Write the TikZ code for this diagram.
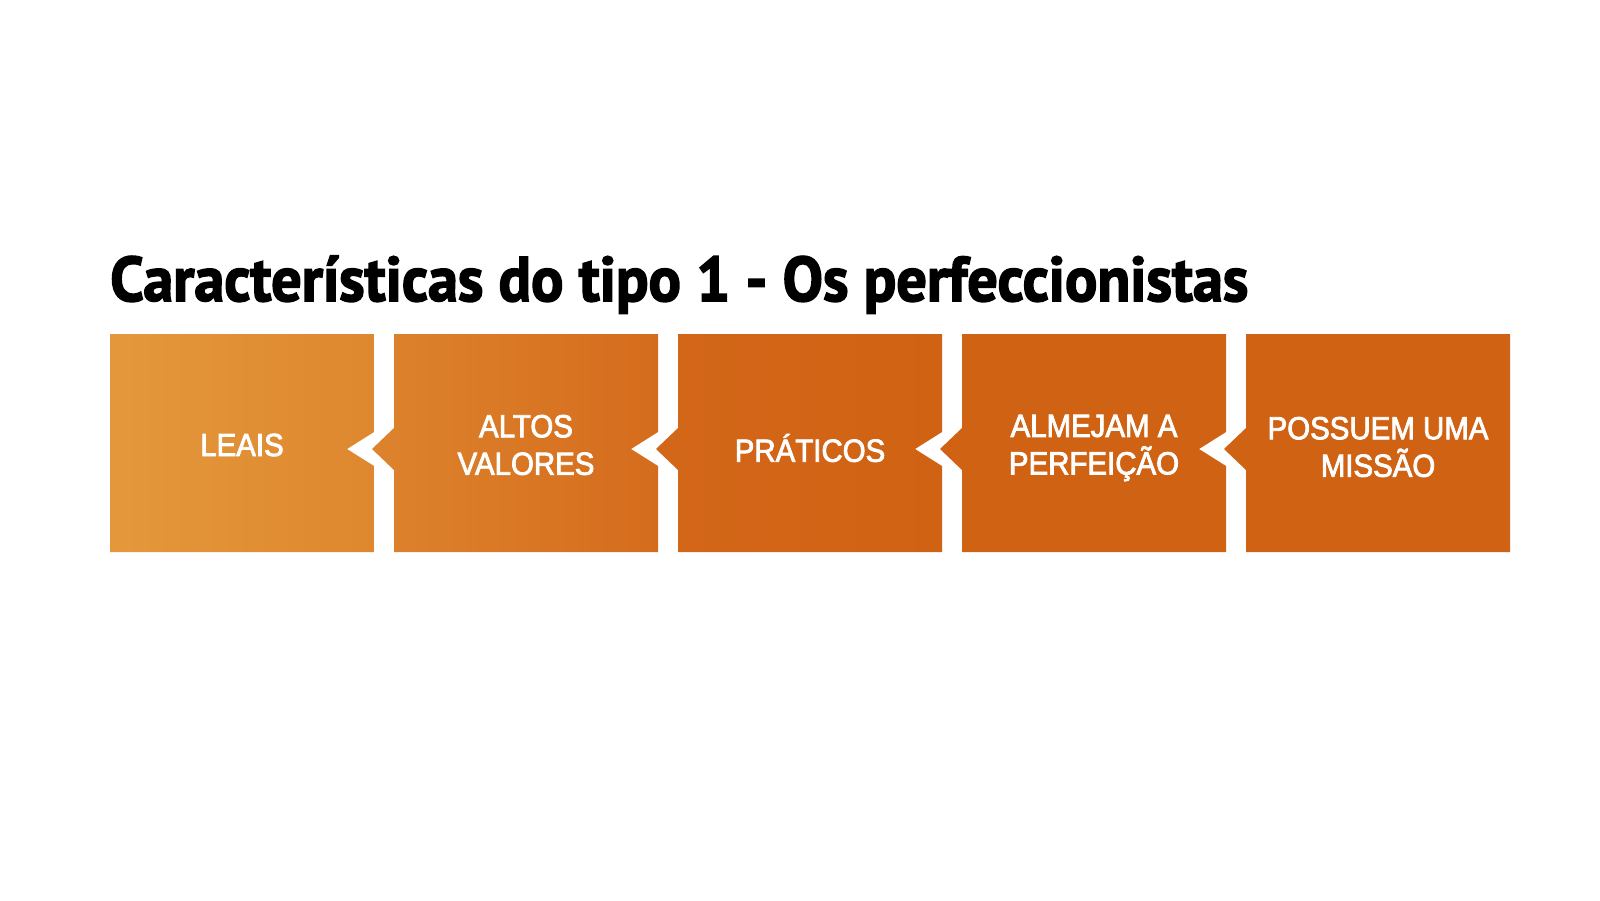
\documentclass[tikz,border=0pt]{standalone}
\usepackage{fontspec}
\usepackage{graphicx}
\setmainfont{Liberation Sans}
\newfontfamily\titlefont{PT Sans}[FakeBold=2.5]
\newfontfamily\boxfont{Liberation Sans}[FakeBold=2.5, FakeStretch=0.92]
\definecolor{cA}{RGB}{228,152,60}
\definecolor{cB}{RGB}{222,135,47}
\definecolor{cC}{RGB}{221,131,45}
\definecolor{cD}{RGB}{213,108,29}
\definecolor{cE}{RGB}{211,103,25}
\definecolor{cF}{RGB}{208,98,19}
\tikzset{
  boxtxt/.style={text=white, align=center, inner sep=0pt,
    font=\boxfont\fontsize{32}{37.5}\selectfont},
  titletxt/.style={anchor=base west, inner sep=0pt, text=black}
}
\begin{document}
\begin{tikzpicture}[x=1pt,y=-1pt]
\useasboundingbox (0,0) rectangle (1600,900);
\fill[white] (0,0) rectangle (1600,900);

% box 1
\path[left color=cA, right color=cB]
  (110,334) -- (374,334) -- (374,432) -- (347,449) -- (374,466) -- (374,552) -- (110,552) -- cycle;
% box 2
\path[left color=cC, right color=cD]
  (394,334) -- (658,334) -- (658,432) -- (631,449) -- (658,466) -- (658,552)
  -- (394,552) -- (394,470) -- (372,449) -- (394,428) -- cycle;
% box 3
\path[left color=cE, right color=cF]
  (678,334) -- (942,334) -- (942,432) -- (915,449) -- (942,466) -- (942,552)
  -- (678,552) -- (678,470) -- (656,449) -- (678,428) -- cycle;
% box 4
\path[fill=cF]
  (962,334) -- (1226,334) -- (1226,432) -- (1199,449) -- (1226,466) -- (1226,552)
  -- (962,552) -- (962,470) -- (940,449) -- (962,428) -- cycle;
% box 5
\path[fill=cF]
  (1246,334) -- (1510,334) -- (1510,552)
  -- (1246,552) -- (1246,470) -- (1224,449) -- (1246,428) -- cycle;

\node[titletxt] (title) at (110,301)
  {\resizebox{1138pt}{\height}{\titlefont\bfseries\fontsize{63}{63}\selectfont Características do tipo 1 - Os perfeccionistas}};

\node[boxtxt] (t1) at (242,445) {LEAIS};
\node[boxtxt] (t2) at (526,445) {ALTOS\\VALORES};
\node[boxtxt] (t3) at (810,448) {PRÁTICOS};
\node[boxtxt] (t4) at (1094,448) {ALMEJAM A\\PERFEIÇÃO};
\node[boxtxt] (t5) at (1378,447) {POSSUEM UMA\\MISSÃO};
\end{tikzpicture}
\end{document}
